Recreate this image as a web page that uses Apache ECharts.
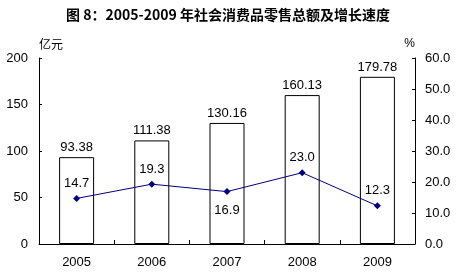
<!DOCTYPE html>
<html><head><meta charset="utf-8">
<script src="https://cdn.jsdelivr.net/npm/echarts@6/dist/echarts.min.js"></script>
<style>html,body{margin:0;padding:0;background:#fff}#c{width:456px;height:274px}</style>
</head><body><div id="c"></div>
<script>
var categories = ['2005','2006','2007','2008','2009'];
var salesValues = [93.38, 111.38, 130.16, 160.13, 179.78];
var growthValues = [14.7, 19.3, 16.9, 23.0, 12.3];
var growthLabelPos = ['top','top','bottom','top','top'];
var leftTicks = {min:0, max:200, interval:50};
var rightTicks = {min:0, max:60, interval:10};

var chart = echarts.init(document.getElementById('c'));
var font = '"Liberation Sans", Arial, sans-serif';
chart.setOption({
  animation:false,
  backgroundColor:'#fff',
  title:{text:'图 8：2005-2009 年社会消费品零售总额及增长速度', left:'center', top:3,
    textStyle:{fontSize:14, fontWeight:'bold', color:'#000', fontFamily:'"Noto Sans CJK SC", sans-serif'}},
  grid:{left:39, right:41, top:58, bottom:30},
  xAxis:{type:'category', data:categories,
    axisLine:{lineStyle:{color:'#000', width:1}},
    axisTick:{show:true, inside:true, length:4, lineStyle:{color:'#000'}},
    axisLabel:{color:'#000', fontSize:13, fontFamily:font, margin:12}},
  yAxis:[
    {type:'value', min:leftTicks.min, max:leftTicks.max, interval:leftTicks.interval,
     name:'亿元', nameGap:8, nameTextStyle:{color:'#000', fontSize:12, fontFamily:'"Noto Sans CJK SC", sans-serif', align:'left', padding:[0,0,0,0]},
     axisLine:{show:true, lineStyle:{color:'#000'}},
     axisTick:{show:true, inside:true, length:3, lineStyle:{color:'#000'}},
     splitLine:{show:false},
     axisLabel:{color:'#000', fontSize:13, fontFamily:font, margin:11}},
    {type:'value', min:rightTicks.min, max:rightTicks.max, interval:rightTicks.interval, position:'right',
     name:'%', nameGap:8, nameTextStyle:{color:'#000', fontSize:12, fontFamily:font, align:'right'},
     axisLine:{show:true, lineStyle:{color:'#000'}},
     axisTick:{show:true, inside:true, length:3, lineStyle:{color:'#000'}},
     splitLine:{show:false},
     axisLabel:{color:'#000', fontSize:13, fontFamily:font, margin:10, formatter:function(v){return v.toFixed(1);}}}
  ],
  series:[
    {type:'bar', data:salesValues, barWidth:35, yAxisIndex:0,
     itemStyle:{color:'#fff', borderColor:'#000', borderWidth:1},
     label:{show:true, position:'top', color:'#000', fontSize:13, fontFamily:font, distance:3,
       formatter:function(p){return p.value.toFixed(2);}}},
    {type:'line', yAxisIndex:1, z:5,
     data:growthValues.map(function(v,i){return {value:v, label:{position:growthLabelPos[i], distance: growthLabelPos[i]==='top'?5:9}};}),
     symbol:'diamond', symbolSize:7,
     lineStyle:{color:'#000080', width:1}, itemStyle:{color:'#000080'},
     label:{show:true, color:'#000', fontSize:13, fontFamily:font,
       formatter:function(p){return p.value.toFixed(1);}}}
  ]
});
</script></body></html>
